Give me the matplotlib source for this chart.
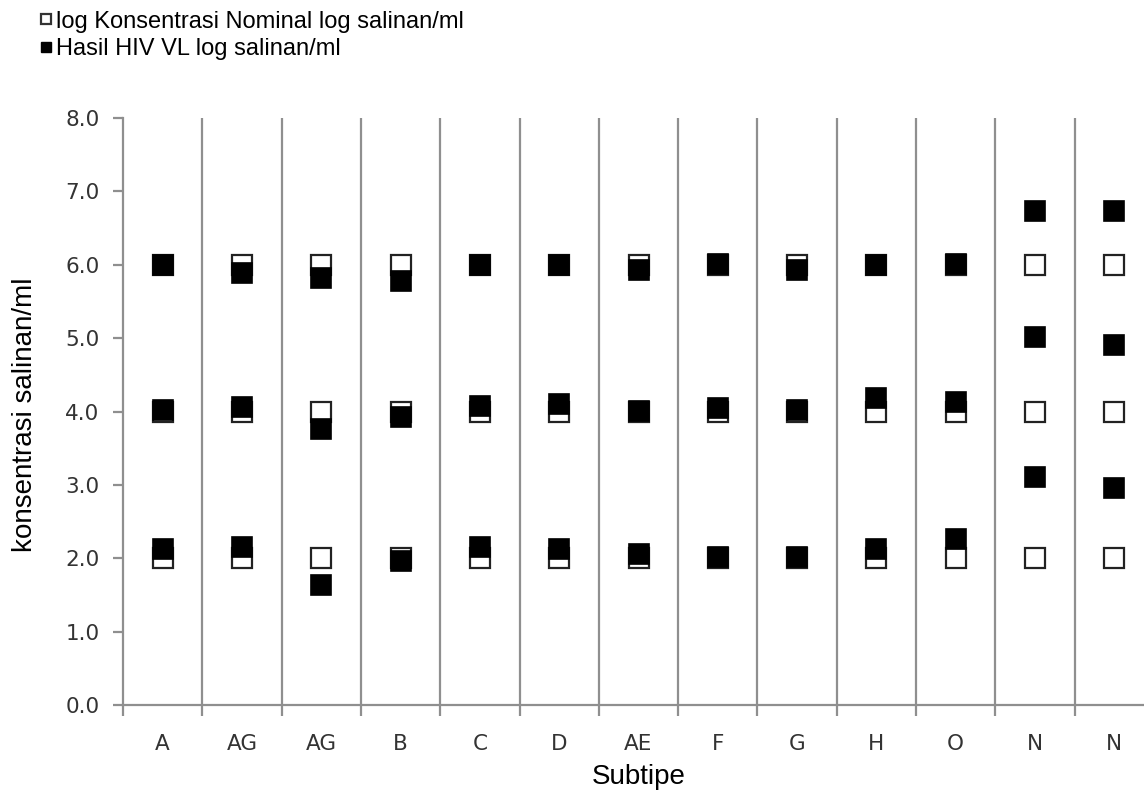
import numpy as np
import matplotlib.pyplot as plt
from matplotlib.lines import Line2D
from matplotlib.font_manager import FontProperties

subtypes = ['A', 'AG', 'AG', 'B', 'C', 'D', 'AE', 'F', 'G', 'H', 'O', 'N', 'N']

# nominal concentration (log copies/ml), same three levels for every subtype
nominal_levels = [6.0, 4.0, 2.0]

# measured HIV VL result per subtype, one list per nominal level
hasil_6 = [6.00, 5.89, 5.82, 5.78, 6.00, 6.00, 5.93, 6.01, 5.93, 6.00, 6.01, 6.73, 6.73]
hasil_4 = [4.02, 4.06, 3.76, 3.92, 4.07, 4.10, 4.01, 4.05, 4.02, 4.18, 4.13, 5.01, 4.90]
hasil_2 = [2.12, 2.15, 1.63, 1.96, 2.15, 2.12, 2.06, 2.02, 2.02, 2.12, 2.26, 3.11, 2.96]

yticks = [0.0, 1.0, 2.0, 3.0, 4.0, 5.0, 6.0, 7.0, 8.0]

GRID = '#8f8f8f'
TICK_TXT = '#333333'


def arial(size):
    return FontProperties(family='Liberation Sans', stretch='normal', size=size)


fig = plt.figure(figsize=(11.44, 7.93), dpi=100)
ax = fig.add_axes([123 / 1144, 1 - 705 / 793, (1154 - 123) / 1144, (705 - 118) / 793])

x = np.arange(len(subtypes))

for lvl in nominal_levels:
    ax.plot(x, [lvl] * len(x), linestyle='none', marker='s', markersize=14.2,
            markerfacecolor='white', markeredgecolor='#222222', markeredgewidth=1.6,
            zorder=3)
for vals in (hasil_6, hasil_4, hasil_2):
    ax.plot(x, vals, linestyle='none', marker='s', markersize=14.2,
            markerfacecolor='black', markeredgecolor='black', markeredgewidth=1.2,
            zorder=4)

ax.set_xlim(-0.5, len(subtypes) - 0.5)
ax.set_ylim(0, 8)

# vertical separators between subtypes
for b in np.arange(0.5, len(subtypes) - 0.5, 1.0):
    ax.axvline(b, color=GRID, linewidth=1.6, zorder=1)

for side in ['top', 'right']:
    ax.spines[side].set_visible(False)
for side in ['left', 'bottom']:
    ax.spines[side].set_color(GRID)
    ax.spines[side].set_linewidth(1.6)

ax.set_yticks(yticks)
ax.set_yticklabels([f'{v:.1f}' for v in yticks])
ax.set_xticks(x)
ax.set_xticklabels(subtypes)
ax.set_xticks(np.arange(-0.5, len(subtypes) + 0.5, 1.0), minor=True)

ax.tick_params(axis='y', direction='out', length=7, width=1.6, color=GRID,
               labelsize=15.5, labelcolor=TICK_TXT, pad=10)
ax.tick_params(axis='x', which='major', length=0, labelsize=15.5,
               labelcolor=TICK_TXT, pad=21)
ax.tick_params(axis='x', which='minor', direction='out', length=8, width=1.6,
               color=GRID)
for lab in ax.get_xticklabels() + ax.get_yticklabels():
    lab.set_family('DejaVu Sans')

ax.set_xlabel('Subtipe', fontproperties=arial(20), labelpad=7)
ax.set_ylabel('konsentrasi salinan/ml', fontproperties=arial(20))
ax.yaxis.set_label_coords((38 - 123) / 1031, (705 - 415) / 587)

handles = [
    Line2D([], [], linestyle='none', marker='s', markersize=7.5,
           markerfacecolor='white', markeredgecolor='#333333', markeredgewidth=1.6),
    Line2D([], [], linestyle='none', marker='s', markersize=7.5,
           markerfacecolor='black', markeredgecolor='black'),
]
labels = ['log Konsentrasi Nominal log salinan/ml', 'Hasil HIV VL log salinan/ml']
fig.legend(handles, labels, loc='upper left', bbox_to_anchor=(24 / 1144, 1 + 6 / 793),
           frameon=False, prop=arial(17),
           handlelength=0.5, handletextpad=0.15, labelspacing=0.25, borderpad=0.2)

fig.savefig('out.png', dpi=100)
